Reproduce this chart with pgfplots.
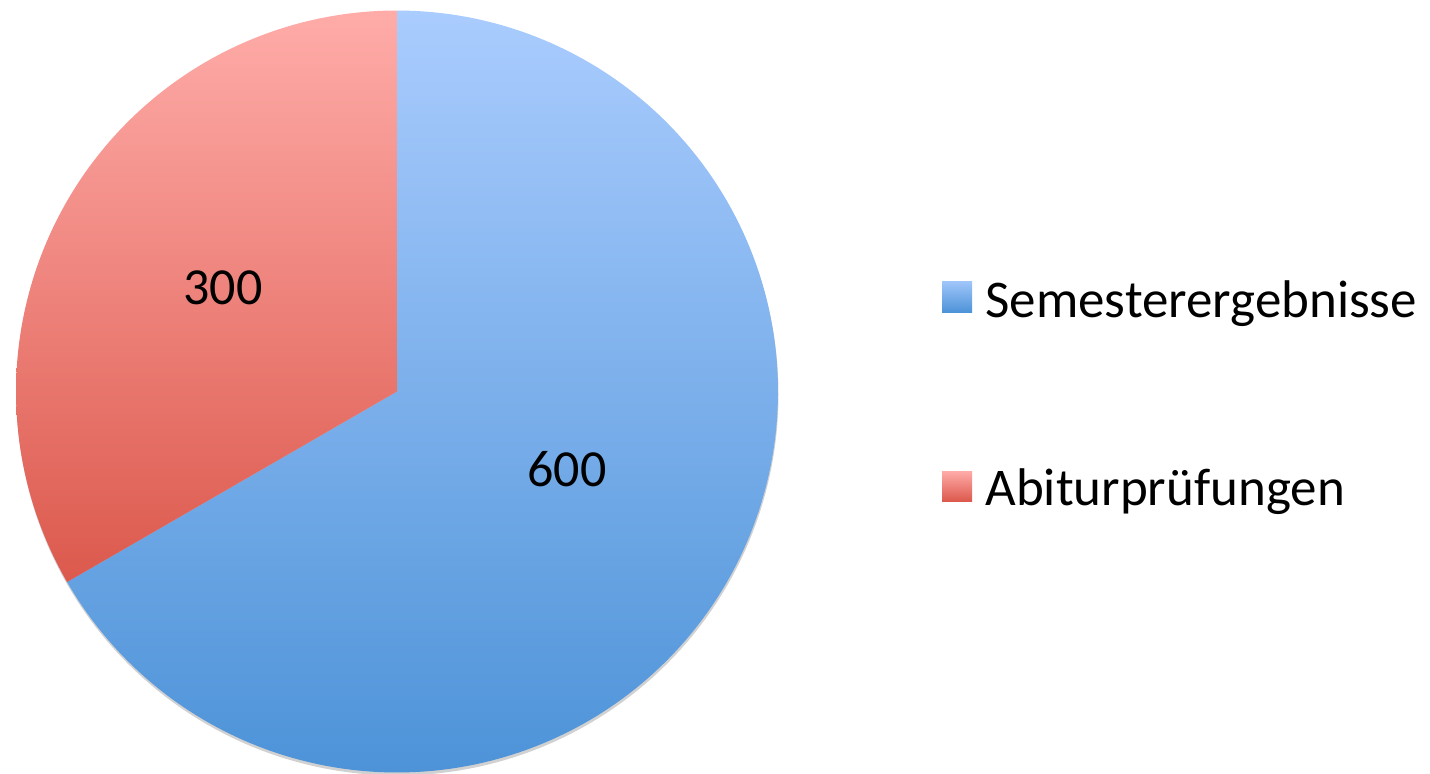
\documentclass[border=0pt]{standalone}
\usepackage{pgfplots}
\pgfplotsset{compat=1.18}
\usepackage{pgfplotstable}
\usepackage{fontspec}
\setmainfont{Carlito}
\definecolor{blueTop}{HTML}{AACCFE}
\definecolor{blueBot}{HTML}{4D93D8}
\definecolor{redTop}{HTML}{FFACA9}
\definecolor{redBot}{HTML}{DC594D}
\pgfplotstableread{
label value
Semesterergebnisse 600
Abiturpruefungen 300
}\piedata
\pgfplotstablegetelem{0}{value}\of\piedata \let\vA\pgfplotsretval
\pgfplotstablegetelem{1}{value}\of\piedata \let\vB\pgfplotsretval
\pgfmathsetmacro{\fA}{\vA/(\vA+\vB)}
\pgfmathsetmacro{\fB}{\vB/(\vA+\vB)}
\pgfmathsetmacro{\aStart}{90}
\pgfmathsetmacro{\aMid}{90-360*\fA}
\pgfmathsetmacro{\aEnd}{\aMid-360*\fB}
\def\cx{397}
\def\cy{381.5}
\def\rr{381}
\begin{document}
\begin{tikzpicture}
\begin{axis}[
  width=715pt, height=386.5pt, scale only axis,
  xmin=0, xmax=1430, ymin=0, ymax=773,
  hide axis, clip=false,
]
% soft shadow
\addplot[draw=none, fill=black, fill opacity=0.18, domain=0:360, samples=241, variable=\t]
  ({\cx+0.5+\rr*cos(\t)},{\cy-3+\rr*sin(\t)}) -- cycle;
% blue slice
\addplot[draw=none, top color=blueTop, bottom color=blueBot, domain=\aStart:\aMid, samples=181, variable=\t]
  ({\cx+\rr*cos(\t)},{\cy+\rr*sin(\t)}) -- (axis cs:\cx,\cy) -- cycle;
% red slice
\addplot[draw=none, top color=redTop, bottom color=redBot, domain=\aMid:\aEnd, samples=121, variable=\t]
  ({\cx+\rr*cos(\t)},{\cy+\rr*sin(\t)}) -- (axis cs:\cx,\cy) -- cycle;
% data labels
\node[font=\fontsize{26}{30}\selectfont, inner sep=0pt] at (axis cs:567,304) {\vA};
\node[font=\fontsize{26}{30}\selectfont, inner sep=0pt] at (axis cs:223,485) {\vB};
% legend
\fill[top color=blueTop!90!blueBot, bottom color=blueBot] (axis cs:942,461) rectangle (axis cs:972,492);
\fill[top color=redTop, bottom color=redBot] (axis cs:942,272) rectangle (axis cs:972,302);
\node[anchor=base west, inner sep=0pt, font=\fontsize{26.5}{30}\selectfont] at (axis cs:985,456) {Semesterergebnisse};
\node[anchor=base west, inner sep=0pt, font=\fontsize{26.5}{30}\selectfont] at (axis cs:985,268) {Abiturprüfungen};
\end{axis}
\pgfresetboundingbox
\path (0,0) rectangle (715pt,386.5pt);
\end{tikzpicture}
\end{document}
